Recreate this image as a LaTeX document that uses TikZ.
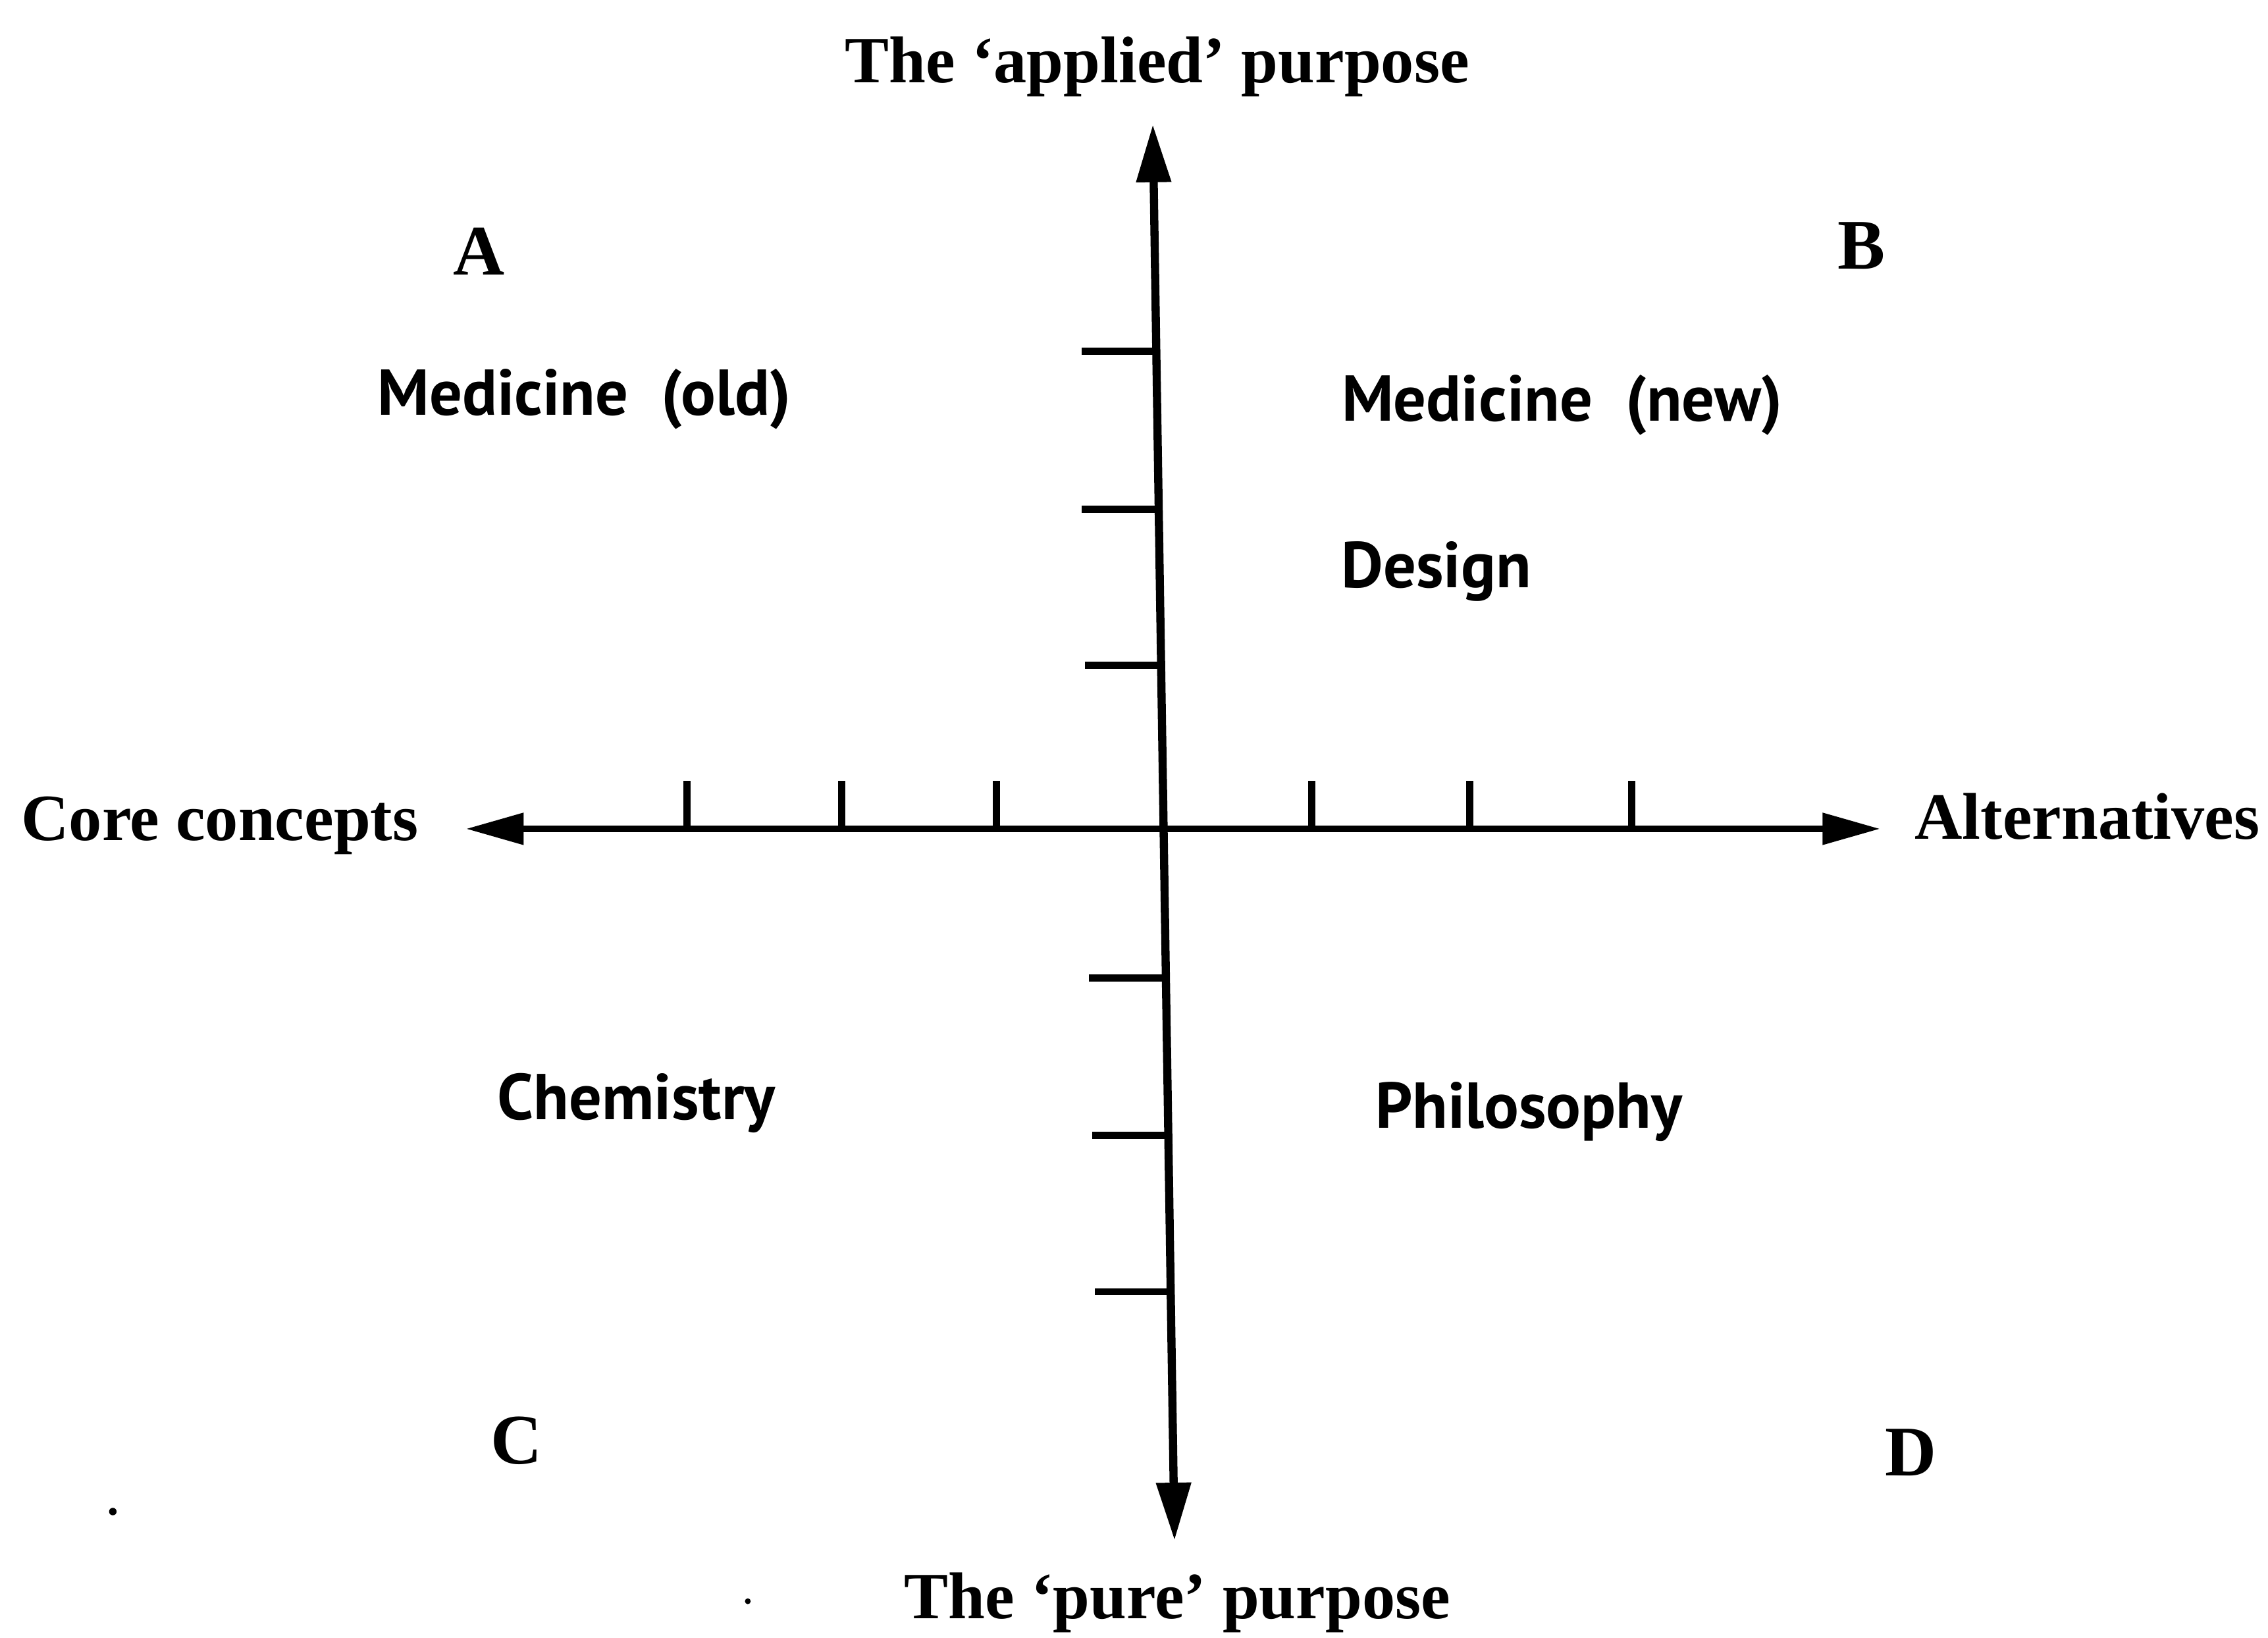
\documentclass[tikz,border=0pt]{standalone}
\usepackage{fontspec}
\setmainfont{Liberation Serif}
\newfontfamily\quadfont{PT Sans}
\usetikzlibrary{arrows.meta}
\begin{document}
\begin{tikzpicture}[x=0.02cm,y=-0.02cm,
  axisline/.style={line width=3.2pt,
    {Triangle[length=0.8cm,width=0.46cm]}-{Triangle[length=0.8cm,width=0.46cm]}},
  hline/.style={line width=2.8pt,
    {Triangle[length=0.8cm,width=0.42cm]}-{Triangle[length=0.8cm,width=0.42cm]}},
  tick/.style={line width=2.8pt},
  axislabel/.style={font=\bfseries\fontsize{26}{30}\selectfont, inner sep=0pt, anchor=base},
  corner/.style={font=\bfseries\fontsize{28}{32}\selectfont, inner sep=0pt, anchor=base},
  quad/.style={font=\quadfont\bfseries\fontsize{25.5}{30}\selectfont, inner sep=0pt, anchor=base}]
\useasboundingbox[fill=white] (0,0) rectangle (1568,1132);

% axis end points
\coordinate (top) at (797,86);
\coordinate (bottom) at (812,1065);
\coordinate (left) at (322,573);
\coordinate (right) at (1300,573);

\draw[axisline] (top) -- (bottom);
\draw[hline] (left) -- (right);

% ticks on vertical axis
\foreach \ya/\xl in {243/748, 352/748, 460/750, 676/753, 785/755, 893/757}{
  \pgfmathsetmacro{\xa}{797+15*(\ya-86)/979}
  \draw[tick] (\xl,\ya) -- (\xa,\ya);
}
% ticks on horizontal axis
\foreach \xt in {475, 582, 689, 907, 1016, 1128}{
  \draw[tick] (\xt,540) -- (\xt,573);
}

% axis labels
\node[axislabel] (applied) at (800,57) {The ‘applied’ purpose};
\node[axislabel] (pure) at (814,1119) {The ‘pure’ purpose};
\node[axislabel] (core) at (152,581) {Core concepts};
\node[axislabel] (alt) at (1443,580) {Alternatives};

% quadrant letters
\node[corner] (A) at (331,190) {A};
\node[corner] (B) at (1287,186) {B};
\node[corner] (C) at (357,1012) {C};
\node[corner] (D) at (1321,1020) {D};

% quadrant entries
\node[quad] (medold) at (404,287) {Medicine\ \ (old)};
\node[quad] (mednew) at (1080,291) {Medicine\ \ (new)};
\node[quad] (design) at (993,406) {Design};
\node[quad] (chem) at (440,774) {Chemistry};
\node[quad] (phil) at (1057,780) {Philosophy};

% specks
\fill (78,1045) circle (2.6);
\fill (517,1107) circle (2);
\end{tikzpicture}
\end{document}
